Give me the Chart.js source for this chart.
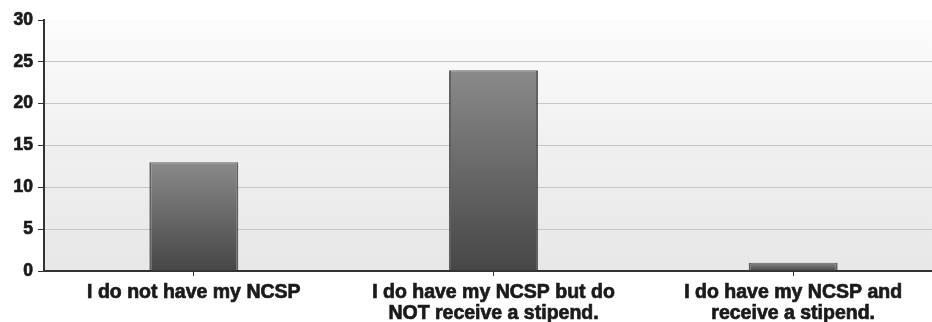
<!DOCTYPE html>
<html>
<head>
<meta charset="utf-8">
<script src="https://cdn.jsdelivr.net/npm/chart.js@4.4.1/dist/chart.umd.min.js"></script>
<style>
  html, body { margin: 0; padding: 0; background: #ffffff; overflow: hidden; }
  #wrap { position: relative; width: 960px; height: 322px; }
  #chart { display: block; }
</style>
</head>
<body>
<div id="wrap"><canvas id="chart" width="960" height="322"></canvas></div>
<script>
// Survey answers and how many respondents chose each
const categories = [
  ['I do not have my NCSP'],
  ['I do have my NCSP but do', 'NOT receive a stipend.'],
  ['I do have my NCSP and', 'receive a stipend.']
];
const responses = [13, 24, 1];
const yTicks = [0, 5, 10, 15, 20, 25, 30];

const FONT = "'Liberation Sans', Arial, sans-serif";

// Soft grey wash behind the plot
const plotBackground = {
  id: 'plotBackground',
  beforeDraw(chart) {
    const { ctx, chartArea: a } = chart;
    const g = ctx.createLinearGradient(0, a.top, 0, a.bottom);
    g.addColorStop(0, '#fcfcfc');
    g.addColorStop(0.5, '#f0f0f0');
    g.addColorStop(1, '#e7e7e7');
    ctx.save();
    ctx.fillStyle = g;
    ctx.fillRect(a.left, a.top, a.right - a.left, a.bottom - a.top);
    ctx.restore();
  }
};

// Each bar shades from mid grey at its top to dark grey at its base
function barFill(context) {
  const chart = context.chart;
  const y = chart.scales.y;
  if (!y || context.type !== 'data') return '#666666';
  const v = context.parsed ? context.parsed.y : context.raw;
  const top = y.getPixelForValue(v);
  const base = y.getPixelForValue(0);
  if (!isFinite(top) || !isFinite(base) || base - top < 1) return '#5a5a5a';
  const g = chart.ctx.createLinearGradient(0, top, 0, base);
  g.addColorStop(0, '#8a8a8a');
  g.addColorStop(1, '#464646');
  return g;
}

new Chart(document.getElementById('chart'), {
  type: 'bar',
  data: {
    labels: categories,
    datasets: [{
      data: responses,
      backgroundColor: barFill,
      borderColor: 'rgba(50,50,50,0.75)',
      borderWidth: { left: 2, right: 2, top: 1, bottom: 0 },
      borderSkipped: false,
      categoryPercentage: 1,
      barPercentage: 0.297
    }]
  },
  options: {
    responsive: false,
    animation: false,
    devicePixelRatio: 1,
    layout: { padding: { top: 20, right: 17, left: 0, bottom: 0 } },
    plugins: { legend: { display: false }, tooltip: { enabled: false } },
    scales: {
      x: {
        afterFit(s) { s.height = 51; },
        grid: {
          display: true,
          drawOnChartArea: false,
          drawTicks: true,
          tickLength: 5,
          offset: false,
          tickColor: '#333333',
          tickWidth: 1
        },
        border: { display: true, color: '#333333', width: 2 },
        ticks: {
          color: '#1a1a1a',
          textStrokeColor: '#1a1a1a',
          textStrokeWidth: 0.7,
          padding: 6,
          maxRotation: 0,
          autoSkip: false,
          font: { family: FONT, size: 19.5, weight: 'bold', lineHeight: 21 / 19.5 }
        }
      },
      y: {
        min: 0,
        max: 30,
        afterFit(s) { s.width = 44; },
        afterBuildTicks(s) { s.ticks = yTicks.map(v => ({ value: v })); },
        grid: {
          color: (c) => (c.tick && c.tick.value === 30) ? 'rgba(0,0,0,0)' : '#c6c6c6',
          lineWidth: 1,
          drawTicks: true,
          tickLength: 6,
          tickColor: '#333333',
          tickWidth: 1
        },
        border: { display: true, color: '#333333', width: 2 },
        ticks: {
          color: '#1a1a1a',
          textStrokeColor: '#1a1a1a',
          textStrokeWidth: 0.7,
          padding: 5,
          font: { family: FONT, size: 17.5, weight: 'bold' }
        }
      }
    }
  },
  plugins: [plotBackground]
});
</script>
</body>
</html>
